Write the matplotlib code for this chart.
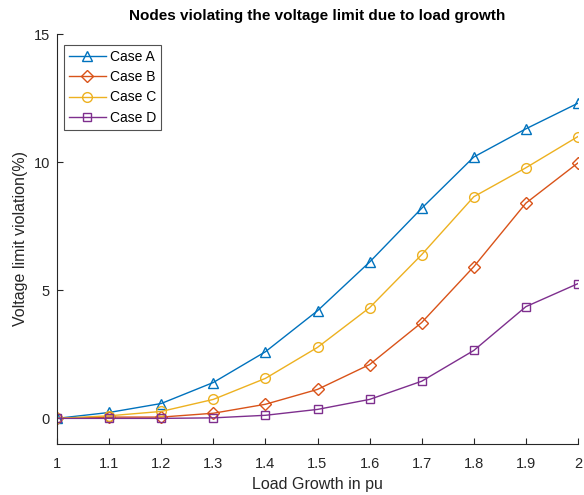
import matplotlib.pyplot as plt

load = [1.0, 1.1, 1.2, 1.3, 1.4, 1.5, 1.6, 1.7, 1.8, 1.9, 2.0]
case_a = [0.0, 0.23, 0.58, 1.4, 2.6, 4.2, 6.1, 8.2, 10.2, 11.3, 12.3]
case_b = [0.0, 0.05, 0.05, 0.2, 0.55, 1.13, 2.1, 3.74, 5.92, 8.4, 9.97]
case_c = [0.0, 0.1, 0.27, 0.74, 1.56, 2.77, 4.32, 6.39, 8.65, 9.78, 11.0]
case_d = [0.0, 0.0, 0.0, 0.02, 0.12, 0.35, 0.74, 1.45, 2.65, 4.36, 5.26]

plt.rcParams['font.family'] = ['Liberation Sans', 'DejaVu Sans']

fig = plt.figure(figsize=(5.84, 4.95), dpi=100)
ax = fig.add_axes([57 / 584, 1 - 444 / 495, 521 / 584, 410 / 495])

ax.plot(load, case_a, color='#0072BD', marker='^', mfc='none', ms=7, lw=1, label='Case A')
ax.plot(load, case_b, color='#D95319', marker='D', mfc='none', ms=6, lw=1, label='Case B')
ax.plot(load, case_c, color='#EDB120', marker='o', mfc='none', ms=7, lw=1, label='Case C')
ax.plot(load, case_d, color='#7E2F8E', marker='s', mfc='none', ms=6, lw=1, label='Case D')

ax.set_xlim(1, 2)
ax.set_ylim(-1, 15)
ax.set_xticks(load)
ax.set_xticklabels(['1', '1.1', '1.2', '1.3', '1.4', '1.5', '1.6', '1.7', '1.8', '1.9', '2'])
ax.set_yticks([0, 5, 10, 15])
ax.tick_params(direction='in', labelsize=10.5, colors='#262626', length=4)
ax.tick_params(axis='x', pad=9)
ax.tick_params(axis='y', pad=5)
for s in ['top', 'right']:
    ax.spines[s].set_visible(False)
for s in ['left', 'bottom']:
    ax.spines[s].set_color('#262626')

ax.set_xlabel('Load Growth in pu', fontsize=11.5, color='#262626', labelpad=5)
ax.set_ylabel('Voltage limit violation(%)', fontsize=11.5, color='#262626', labelpad=4)
ax.set_title('Nodes violating the voltage limit due to load growth', fontsize=11, fontweight='bold', pad=10)

leg = ax.legend(loc='upper left', bbox_to_anchor=(0.013, 0.973), borderaxespad=0, fontsize=10,
                fancybox=False, edgecolor='#262626', handlelength=2.7, borderpad=0.35,
                labelspacing=0.45, handletextpad=0.3)
leg.get_frame().set_linewidth(0.8)

plt.savefig('out.png')
